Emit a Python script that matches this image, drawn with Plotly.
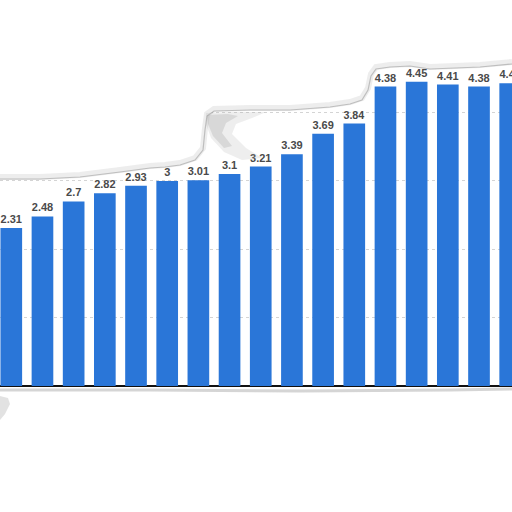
import plotly.graph_objects as go

# bar data (left to right, first and last bars cut by the frame)
bar_index = list(range(17))
values = [2.31, 2.48, 2.7, 2.82, 2.93, 3, 3.01, 3.1, 3.21, 3.39,
          3.69, 3.84, 4.38, 4.45, 4.41, 4.38, 4.43]
grid_ticks = [1, 2, 3, 4]

W = H = 512

# torn paper edge (pixel coords of the image), decoration only
top_edge = [(0, 179), (40, 179), (80, 177), (120, 172), (150, 168), (165, 167),
            (180, 165), (195, 160), (203, 150), (205, 130), (207, 116),
            (214, 111), (250, 110), (290, 110), (330, 107), (350, 104),
            (362, 100), (368, 90), (371, 76), (376, 69), (390, 67), (410, 66),
            (430, 69), (455, 68), (480, 67), (512, 64)]
fold_outer = [(206, 113), (232, 112), (266, 112), (252, 118), (236, 124),
              (232, 134), (246, 148), (262, 158), (242, 160), (224, 152),
              (211, 138), (206, 124)]
fold_inner = [(207, 115), (228, 114), (238, 116), (226, 123), (222, 133),
              (232, 146), (224, 148), (213, 136), (208, 124)]
bottom_edge = [(0, 390), (150, 390), (300, 391), (450, 390), (512, 389)]
corner_mark = [(0, 396), (8, 398), (10, 404), (5, 414), (0, 420)]


def px_path(points, close=False):
    d = 'M ' + ' L '.join(f'{x / W:.4f},{1 - y / H:.4f}' for x, y in points)
    return d + (' Z' if close else '')


fig = go.Figure()
fig.add_trace(go.Bar(
    x=bar_index,
    y=values,
    marker=dict(color='#2a76d8', line=dict(width=0)),
    texttemplate='<b>%{y}</b>',
    textposition='outside',
    textfont=dict(size=11, color='#4a4a4a', family='Liberation Sans'),
    cliponaxis=False,
    hoverinfo='skip'
))

shapes = [
    # white area above the tear
    dict(type='path', xref='paper', yref='paper', layer='above',
         path=px_path([(0, 0), (512, 0)] + top_edge[::-1], close=True),
         fillcolor='white', line=dict(width=0)),
    # soft shadow along the tear
    dict(type='path', xref='paper', yref='paper', layer='above',
         path=px_path([(x, y - 2) for x, y in top_edge]),
         line=dict(color='rgba(140,140,140,0.16)', width=6)),
    dict(type='path', xref='paper', yref='paper', layer='above',
         path=px_path(top_edge),
         line=dict(color='rgba(120,120,120,0.4)', width=1.2)),
    # folded corner shading
    dict(type='path', xref='paper', yref='paper', layer='above',
         path=px_path(fold_outer, close=True),
         fillcolor='rgba(170,170,170,0.2)', line=dict(width=0)),
    dict(type='path', xref='paper', yref='paper', layer='above',
         path=px_path(fold_inner, close=True),
         fillcolor='rgba(150,150,150,0.25)', line=dict(width=0)),
    # bottom tear shadow
    dict(type='path', xref='paper', yref='paper', layer='above',
         path=px_path(bottom_edge),
         line=dict(color='rgba(150,150,150,0.4)', width=3)),
    dict(type='path', xref='paper', yref='paper', layer='above',
         path=px_path(corner_mark, close=True),
         fillcolor='rgba(160,160,160,0.3)', line=dict(width=0)),
]

fig.update_layout(
    width=W,
    height=H,
    margin=dict(l=0, r=0, t=0, b=0),
    plot_bgcolor='white',
    paper_bgcolor='white',
    showlegend=False,
    bargap=0.305,
    font=dict(family='Liberation Sans'),
    xaxis=dict(
        range=[-0.362, 16.058],
        showgrid=False,
        showticklabels=False,
        zeroline=False,
        fixedrange=True
    ),
    yaxis=dict(
        range=[-1.843, 5.647],
        tickmode='array',
        tickvals=grid_ticks,
        showticklabels=False,
        showgrid=True,
        gridcolor='#d4d4d4',
        griddash='dot',
        gridwidth=1,
        zeroline=True,
        zerolinecolor='#111111',
        zerolinewidth=1.5,
        fixedrange=True
    ),
    shapes=shapes
)

# drop the browser's default body margin so the figure fills the window
fig.write_html("out.html", config={'displayModeBar': False},
               post_script="document.body.style.margin = '0';")
